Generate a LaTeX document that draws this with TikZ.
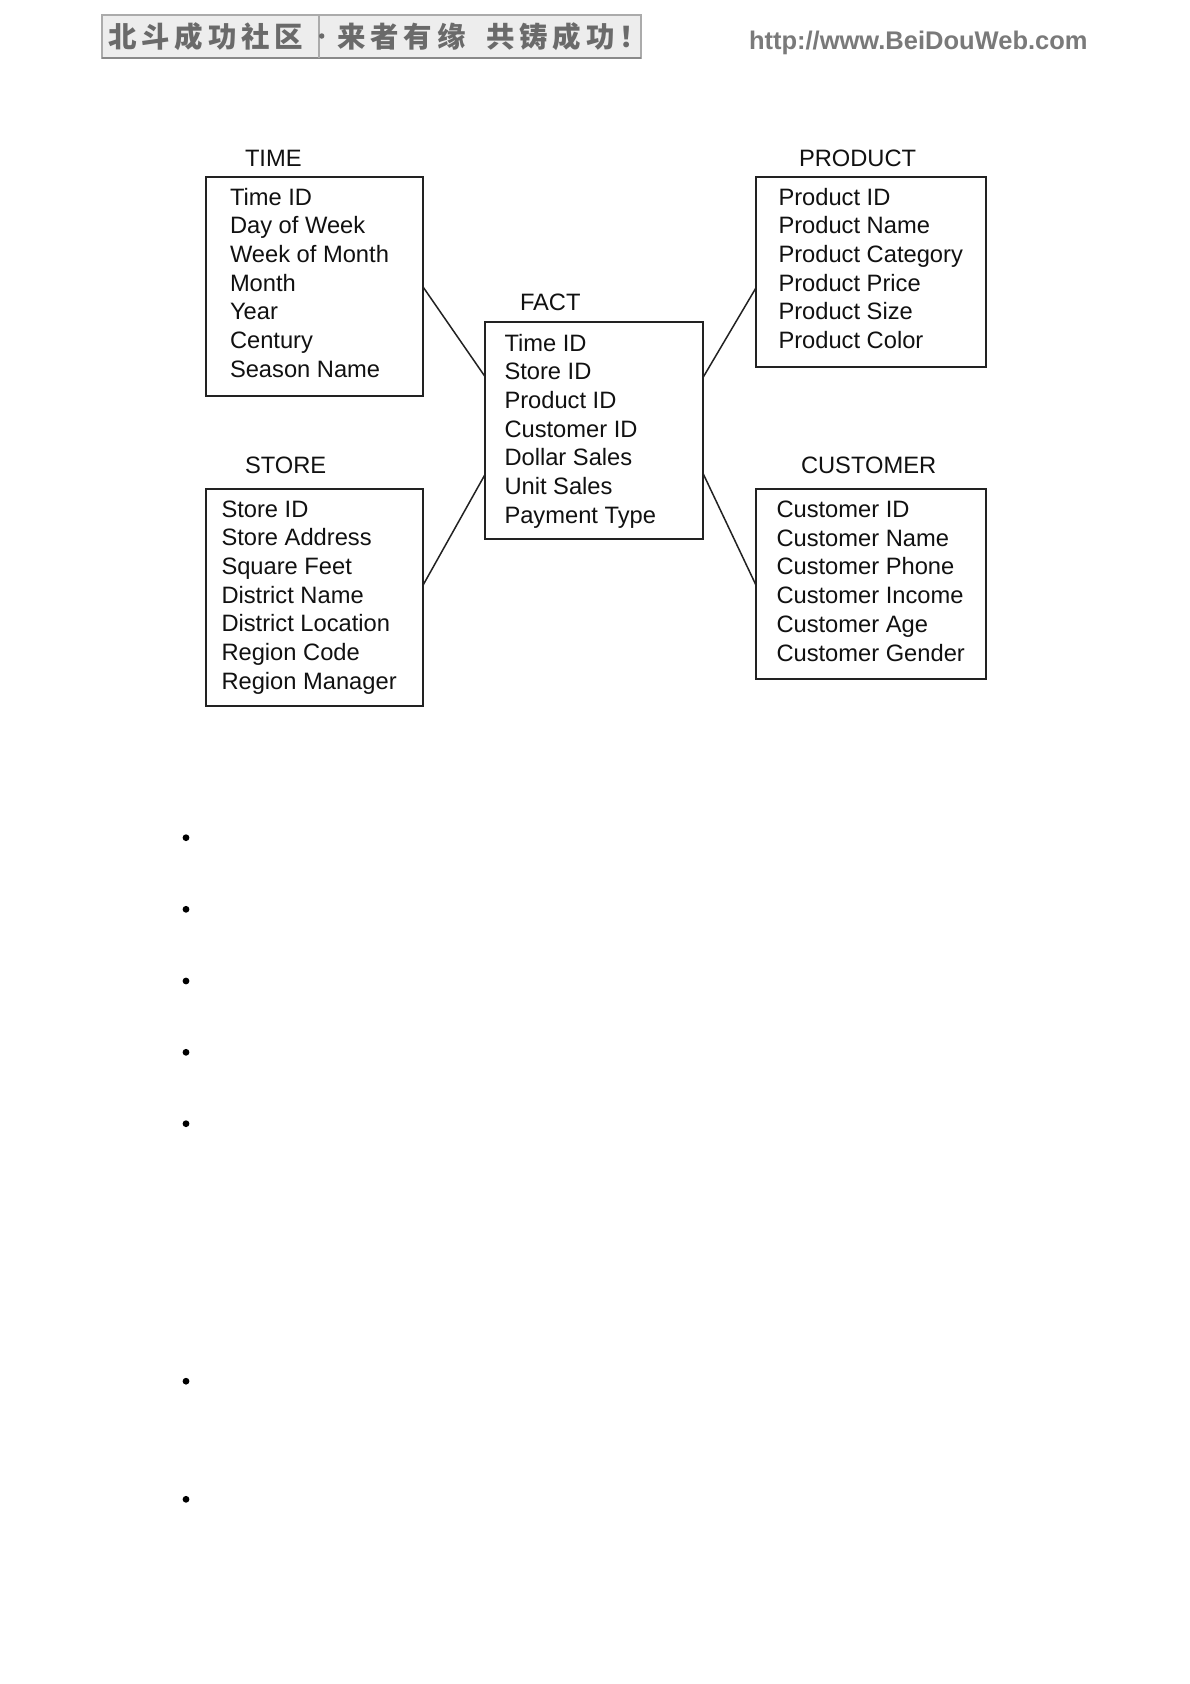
\documentclass[tikz,border=0pt]{standalone}
\usepackage{fontspec}
\setmainfont{Liberation Sans}
\newfontfamily\cjk{Noto Sans CJK SC}[LetterSpace=17]
\usetikzlibrary{calc}
\definecolor{boxc}{HTML}{222222}
\definecolor{txtc}{HTML}{111111}
\definecolor{bannerfill}{HTML}{EDEDED}
\definecolor{bannerline}{HTML}{ABABAB}
\definecolor{bannertext}{HTML}{6A6A6A}
\definecolor{urltext}{HTML}{7A7A7A}
\begin{document}
\begin{tikzpicture}[x=1pt,y=-1pt,
  every node/.style={inner sep=0pt, outer sep=0pt},
  tbl/.style={draw=boxc, line width=1.8pt, rectangle, anchor=north west},
  fld/.style={anchor=base west, text=txtc, font=\fontsize{23.7}{28.7}\selectfont},
  ttl/.style={anchor=base west, text=txtc, font=\fontsize{23.7}{28.7}\selectfont},
  link/.style={draw=boxc, line width=1.5pt},
  dotm/.style={circle, fill=black, minimum size=6.8pt},
  cjktext/.style={anchor=base west, text=bannertext, font=\cjk\bfseries\fontsize{28.5}{32}\selectfont},
]
\fill[white] (0,0) rectangle (1190,1684);
\useasboundingbox (0,0) rectangle (1190,1684);

% header banner
\node[draw=bannerline, fill=bannerfill, line width=1.2pt, anchor=north west,
      minimum width=539pt, minimum height=43pt] (banner) at (102,15) {};
\draw[bannerline!80!black, line width=1.2pt] (banner.south west) -- (banner.south east);
\draw[bannerline, line width=1.2pt] ($(banner.north west)+(217,0)$) coordinate (dvt) -- ($(banner.south west)+(217,0)$) coordinate (dvb);
\node[cjktext] (bn1) at (108,47) {北斗成功社区};
\node[circle, fill=bannertext, minimum size=5.5pt] (bdot) at (321.7,36) {};
\node[cjktext] (bn2) at (337,47) {来者有缘};
\node[cjktext] (bn3) at (486,47) {共铸成功！};
\node[anchor=base west, text=urltext, font=\bfseries\fontsize{25.5}{28}\selectfont] (url) at (749,49.5) {http://www.BeiDouWeb.com};

% tables
\node[tbl, minimum width=217.6pt, minimum height=218.4pt] (time) at (205.7,177.3) {};
\node[tbl, minimum width=218pt, minimum height=217.3pt] (fact) at (485.3,322) {};
\node[tbl, minimum width=217.6pt, minimum height=217pt] (store) at (205.7,488.7) {};
\node[tbl, minimum width=229.8pt, minimum height=190pt] (product) at (756,177.3) {};
\node[tbl, minimum width=229.8pt, minimum height=190pt] (customer) at (756,488.7) {};

% titles
\node[ttl] (timet) at (245,166.5) {TIME};
\node[ttl] (factt) at (520,310) {FACT};
\node[ttl] (storet) at (245,473.5) {STORE};
\node[ttl] (productt) at (799,166.5) {PRODUCT};
\node[ttl] (customert) at (801,473.5) {CUSTOMER};

% fields
\node[fld] (timef) at (230,205) {\vtop{\hbox{Time ID}\hbox{Day of Week}\hbox{Week of Month}\hbox{Month}\hbox{Year}\hbox{Century}\hbox{Season Name}}};
\node[fld] (factf) at (504.5,351) {\vtop{\hbox{Time ID}\hbox{Store ID}\hbox{Product ID}\hbox{Customer ID}\hbox{Dollar Sales}\hbox{Unit Sales}\hbox{Payment Type}}};
\node[fld] (storef) at (221.5,517) {\vtop{\hbox{Store ID}\hbox{Store Address}\hbox{Square Feet}\hbox{District Name}\hbox{District Location}\hbox{Region Code}\hbox{Region Manager}}};
\node[fld] (productf) at (778.5,205) {\vtop{\hbox{Product ID}\hbox{Product Name}\hbox{Product Category}\hbox{Product Price}\hbox{Product Size}\hbox{Product Color}}};
\node[fld] (customerf) at (776.5,517.5) {\vtop{\hbox{Customer ID}\hbox{Customer Name}\hbox{Customer Phone}\hbox{Customer Income}\hbox{Customer Age}\hbox{Customer Gender}}};

% connectors
\draw[link] ([yshift=-110pt]time.north east) -- ([yshift=-55pt]fact.north west);
\draw[link] ([yshift=-96pt]store.north east) -- ([yshift=-152pt]fact.north west);
\draw[link] ([yshift=-110.5pt]product.north west) -- ([yshift=-55pt]fact.north east);
\draw[link] ([yshift=-96.5pt]customer.north west) -- ([yshift=-152pt]fact.north east);

% bullets
\node[dotm] (b1) at (186,837.7) {};
\node[dotm] (b2) at (186,909.3) {};
\node[dotm] (b3) at (186,981) {};
\node[dotm] (b4) at (186,1052.3) {};
\node[dotm] (b5) at (186,1123.7) {};
\node[dotm] (b6) at (186,1381.2) {};
\node[dotm] (b7) at (186,1499.3) {};
\end{tikzpicture}
\end{document}
